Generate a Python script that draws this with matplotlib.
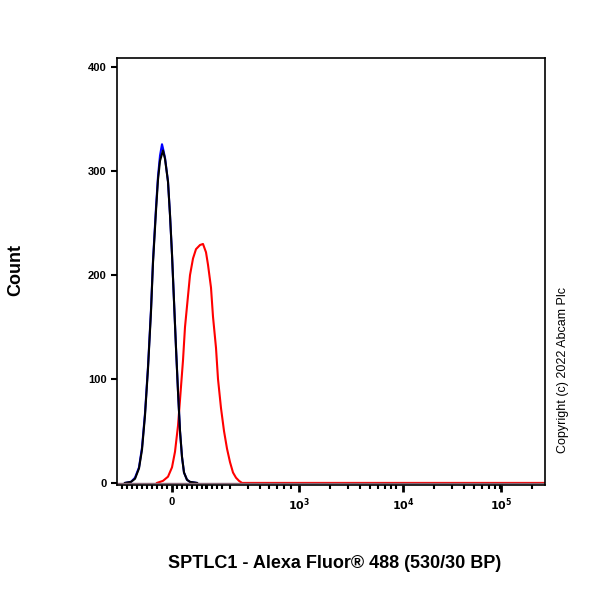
import matplotlib
matplotlib.use("Agg")
import matplotlib.pyplot as plt
import numpy as np

plt.rcParams["font.family"] = "Liberation Sans"

# channel positions (display units 0..428 across axis) and counts
black_x = [8, 14, 18, 22, 25, 28, 31, 34, 36, 39, 41, 43, 46, 48, 51, 53, 55, 57, 59, 61, 63, 65, 67, 70, 73, 80]
black_y = [0, 1, 4, 14, 32, 65, 110, 165, 212, 262, 292, 310, 320, 312, 290, 258, 220, 175, 130, 88, 50, 25, 10, 3, 1, 0]
blue_x = [8, 14, 18, 22, 25, 28, 31, 34, 36, 39, 41, 43, 45, 46, 48, 51, 53, 55, 57, 59, 61, 63, 65, 67, 70, 73, 80]
blue_y = [0, 1, 5, 15, 34, 67, 112, 167, 214, 265, 295, 315, 326, 322, 313, 290, 258, 220, 175, 130, 88, 50, 25, 10, 3, 1, 0]
red_x = [40, 46, 51, 55, 58, 61, 63, 66, 68, 71, 73, 76, 79, 83, 86, 89, 91, 94, 96, 99, 101, 104, 107, 110, 113, 116, 119, 122, 125, 428]
red_y = [0, 2, 6, 15, 30, 55, 80, 118, 150, 180, 200, 216, 225, 229, 230, 222, 210, 188, 160, 130, 100, 72, 50, 33, 20, 10, 5, 2, 0, 0]
xtick_pos = [55, 182, 286, 384]
xtick_labels = ["0", "$\\mathbf{10^3}$", "$\\mathbf{10^4}$", "$\\mathbf{10^5}$"]
yticks = [0, 100, 200, 300, 400]

fig = plt.figure(figsize=(6, 6), dpi=100)
ax = fig.add_axes([117/600, 1-485/600, 428/600, 427/600])
ax.plot(red_x, red_y, color="red", lw=1.5)
ax.plot(blue_x, blue_y, color="blue", lw=1.5)
ax.plot(black_x, black_y, color="black", lw=1.5)
ax.axhline(0, color="#8b6a7a", lw=1)
ax.set_xlim(0, 428)
ax.set_ylim(-2, 409)
ax.set_yticks(yticks)
ax.set_yticklabels([str(v) for v in yticks], fontsize=8, fontweight="bold")
ax.set_xticks(xtick_pos)
ax.set_xticklabels(xtick_labels, fontsize=8, fontweight="bold")
minor = []
for base in [182, 286, 384]:
    for m in range(2, 10):
        p = base + 102 * np.log10(m)
        if p < 428:
            minor.append(p)
minor += [89, 113, 131, 143, 152, 160, 167, 174]
minor += list(np.linspace(5, 105, 21))
ax.set_xticks(minor, minor=True)
ax.tick_params(axis="x", which="major", length=5, width=2)
ax.tick_params(axis="x", which="minor", length=3, width=1.5)
ax.tick_params(axis="y", length=4, width=1.5)
for s in ax.spines.values():
    s.set_linewidth(1.2)
fig.text(16/600, 1-270/600, "Count", rotation=90, fontsize=13, fontweight="bold", va="center", ha="center")
fig.text(335/600, 1-563/600, "SPTLC1 - Alexa Fluor\u00ae 488 (530/30 BP)", fontsize=13, fontweight="bold", ha="center", va="center")
fig.text(563/600, 1-370/600, "Copyright (c) 2022 Abcam Plc", rotation=90, fontsize=9, ha="center", va="center")
fig.savefig("out.png", dpi=100)
